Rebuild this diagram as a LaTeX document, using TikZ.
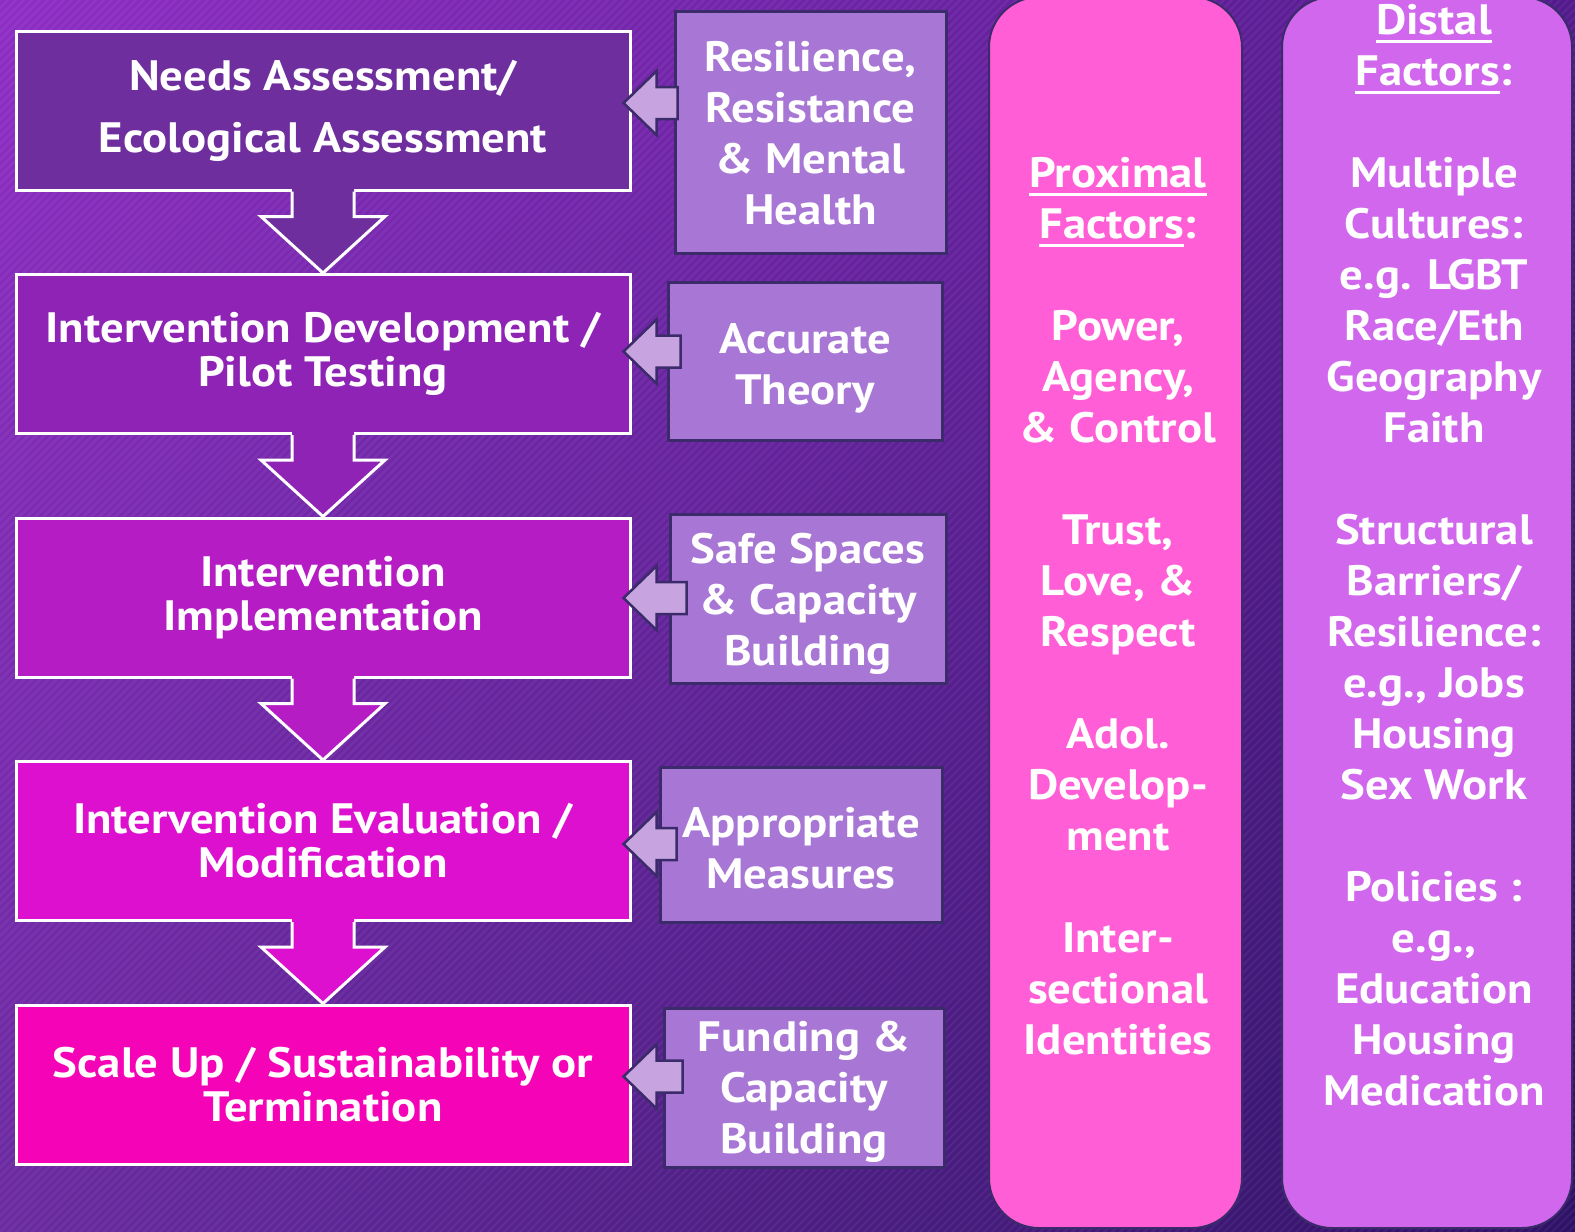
\documentclass[tikz,border=0pt]{standalone}
\usepackage{fontspec}
\setmainfont{PT Sans}[FakeStretch=1.1]
\usepackage{tikz}
\usetikzlibrary{positioning, calc, shadings}

\definecolor{bgUL}{HTML}{8E2DC4}
\definecolor{bgUR}{HTML}{521A8C}
\definecolor{bgLL}{HTML}{6A2AA0}
\definecolor{bgLR}{HTML}{2E1166}
\definecolor{stepA}{HTML}{6F2E9E}
\definecolor{stepB}{HTML}{8E23B5}
\definecolor{stepC}{HTML}{B51CC4}
\definecolor{stepD}{HTML}{DC10CE}
\definecolor{stepE}{HTML}{F503B6}
\definecolor{factfill}{HTML}{A876D4}
\definecolor{factline}{HTML}{3C2B6A}
\definecolor{sidefill}{HTML}{C7A3DF}
\definecolor{proxfill}{HTML}{FF5ED6}
\definecolor{distfill}{HTML}{D067EC}

\newlength{\faclen}
\newcommand{\facul}[1]{\settowidth{\faclen}{#1}\rlap{\rule[-9pt]{\faclen}{3.5pt}}#1}

\begin{document}
\begin{tikzpicture}[x=1pt,y=-1pt]

	\tikzset{stepbox/.style={
			draw=white, line width=3pt,
			minimum width=614pt, minimum height=159pt,
			inner sep=0pt, align=center, text=white,
			font=\fontsize{42.5}{44}\selectfont\bfseries
		},
		factbox/.style={draw=factline, line width=3pt, fill=factfill, inner sep=0pt},
		facttext/.style={align=center, text=white, inner sep=0pt,
			font=\fontsize{42.5}{51}\selectfont\bfseries},
		sidearrow/.style={fill=sidefill, draw=factline, line width=2.5pt, line join=miter},
		pillar/.style={draw=factline, line width=2pt, rounded corners=50pt}
	}

	% background
	\useasboundingbox (0,0) rectangle (1575,1232);
	\shade[upper left=bgUL, upper right=bgUR, lower left=bgLL, lower right=bgLR] (0,0) rectangle (1575,1232);
	\begin{scope}
		\clip (0,0) rectangle (1575,1232);
		\foreach \k in {0,8,...,2816}
			\draw[white, opacity=0.05, line width=2.5pt] (\k,0) -- ++(-1240,1240);
	\end{scope}

	% steps
	\node[stepbox, fill=stepA, font=\fontsize{42.5}{62}\selectfont\bfseries] (needs) at (323,110.5) {Needs Assessment/\\Ecological Assessment};
	\node[stepbox, fill=stepB, below=81.5pt of needs] (devel) {Intervention Development /\\Pilot Testing};
	\node[stepbox, fill=stepC, below=81.5pt of devel] (impl) {Intervention\\Implementation};
	\node[stepbox, fill=stepD, below=81.5pt of impl] (evalu) {Intervention Evaluation /\\Modification};
	\node[stepbox, fill=stepE, below=81.5pt of evalu] (scale) {Scale Up / Sustainability or\\Termination};

	\foreach \a/\b/\c in {needs/devel/stepA, devel/impl/stepB, impl/evalu/stepC, evalu/scale/stepD}{
		\fill[\c] ($(\a.south)+(-31,-3)$) -- ++(0,28) -- ++(-31,0) -- (\b.north) -- ($(\a.south)+(62,25)$) -- ++(-31,0) -- ++(0,-28) -- cycle;
		\draw[white, line width=3pt] ($(\a.south)+(-31,0)$) -- ++(0,25) -- ++(-31,0) -- (\b.north) -- ($(\a.south)+(62,25)$) -- ++(-31,0) -- ++(0,-25);
	}

	% conditions
	\node[factbox, minimum width=271pt, minimum height=242pt] (resil) at (810.5,132) {};
	\node[factbox, minimum width=274pt, minimum height=158pt] (theory) at (805,361) {};
	\node[factbox, minimum width=276pt, minimum height=169pt] (safe) at (808,598.5) {};
	\node[factbox, minimum width=282pt, minimum height=155pt] (measur) at (801,844.5) {};
	\node[factbox, minimum width=280pt, minimum height=159pt] (fund) at (804,1087.5) {};

	\node[facttext] at ([yshift=-1pt]resil.center) {Resilience,\\Resistance\\\& Mental\\Health};
	\node[facttext] at ([yshift=-7pt]theory.center) {Accurate\\Theory};
	\node[facttext] at ([yshift=-5pt]safe.center) {Safe Spaces\\\& Capacity\\Building};
	\node[facttext] at ([yshift=-4pt]measur.center) {Appropriate\\Measures};
	\node[facttext] at ([yshift=-4pt]fund.center) {Funding \&\\Capacity\\Building};

	\foreach \s/\r/\dy/\ex in {needs/resil/-7.5/4, devel/theory/-2.5/14, impl/safe/0.5/18, evalu/measur/3/18, scale/fund/-8/20}{
		\path let \p1=($(\s.east)+(-8,\dy)$), \p2=(\r.west) in
			[sidearrow] (\p1) -- ++(33,-32) -- ++(0,16) -- (\x2+\ex pt,\y1+16pt) -- (\x2+\ex pt,\y1-16pt) -- (\x1+33pt,\y1-16pt) -- ++(0,16) -- cycle;
	}

	% factor pillars
	\draw[pillar, fill=proxfill] (989,-3) rectangle (1242,1228);
	\draw[pillar, fill=distfill] (1282,-3) rectangle (1572,1228);

	\node[facttext] (prox) at (1118,606) {\facul{Proximal}\\\facul{Factors}:\\[51pt]Power,\\Agency,\\\& Control\\[51pt]Trust,\\Love, \&\\Respect\\[51pt]Adol.\\Develop-\\ment\\[51pt]Inter-\\sectional\\Identities};
	\node[facttext] (dist) at (1434,555) {\facul{Distal}\\\facul{Factors}:\\[51pt]Multiple\\Cultures:\\e.g. LGBT\\Race/Eth\\Geography\\Faith\\[51pt]Structural\\Barriers/\\Resilience:\\e.g., Jobs\\Housing\\Sex Work\\[51pt]Policies :\\e.g.,\\Education\\Housing\\Medication};

\end{tikzpicture}
\end{document}
